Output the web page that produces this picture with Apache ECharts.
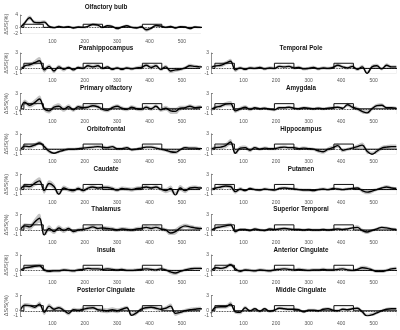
<!DOCTYPE html>
<html>
<head>
<meta charset="utf-8">
<script src="https://cdn.jsdelivr.net/npm/echarts@6/dist/echarts.min.js"></script>
<style>html,body{margin:0;background:#fff}#chart{width:400px;height:330px}</style>
</head>
<body>
<div id="chart"></div>
<script>
// time axis (samples) and stimulation blocks
var time = [0,15,30,45,60,75,90,105,120,135,150,165,180,195,210,225,240,255,270,285,300,315,330,345,360,375,390,405,420,435,450,465,480,495,510,525,540,555,570];
var stimBlocks = [[12,72],[195,255],[378,438]];
var stimLevel = 1;

// mean signal change per region
var olfactoryBulb = [-0.2,1.5,3.1,1.6,1.5,1.7,0.3,-0.1,0.3,0.0, 0.2,-0.2,0.1,0.0,0.3,0.9,0.7,0.0,0.5,0.3, -0.4,0.1,0.5,0.0,-0.2,0.2,-0.8,-0.3,0.6,0.4, 0.0,0.3,-0.2,0.2,0.1,-0.4,0.1,0.0,0.0];
var parahippocampus = [-0.3,0.5,0.7,1.1,1.5,-0.3,0.4,-0.5,0.3,-0.2, 0.2,-0.3,0.2,0.0,0.5,0.3,0.5,0.0,0.3,-0.2, 0.1,-0.2,0.1,-0.1,0.1,0.2,0.6,0.2,0.5,-0.2, 0.3,-0.5,-0.3,-0.2,0.1,0.5,0.4,0.3,0.3];
var temporalPole = [0.2,0.5,0.6,1.0,1.4,-0.3,0.1,-0.2,0.1,0.0, 0.2,-0.1,0.1,0.0,0.4,0.3,0.4,0.1,0.2,-0.1, 0.0,0.2,-0.1,0.1,0.0,0.2,0.6,0.3,0.1,0.4, -0.2,0.3,-1.0,0.3,0.5,-0.1,0.6,0.3,0.3];
var primaryOlfactory = [-0.5,1.3,0.7,1.2,1.9,0.0,-0.4,0.3,0.5,-0.1, 0.4,-0.2,0.4,0.2,0.3,0.6,0.4,-0.1,-0.3,0.2, 0.5,0.1,-0.1,0.3,0.0,-0.1,0.3,0.0,0.5,-0.2, 0.1,-0.4,-0.5,0.1,0.2,0.5,0.2,0.3,0.3];
var amygdala = [-0.2,0.3,0.5,0.9,1.0,-0.4,0.0,0.3,-0.1,0.2, 0.0,0.1,-0.1,-0.2,0.2,0.2,0.3,0.1,0.0,0.2, 0.1,0.0,0.1,0.0,0.1,0.2,0.3,0.1,0.8,0.3, 0.0,-0.5,-0.8,0.0,0.6,0.7,0.2,0.2,0.1];
var orbitofrontal = [-0.3,0.6,0.5,0.8,1.2,0.5,-0.4,-0.8,-0.5,-0.2, 0.0,0.0,0.1,0.2,0.3,0.4,0.5,0.4,0.3,0.5, 0.1,0.1,0.3,-0.1,0.0,0.2,0.4,0.4,0.2,0.0, -0.2,-0.5,-0.6,-0.1,0.3,0.2,0.2,0.1,0.1];
var hippocampus = [0.0,0.3,0.4,0.7,1.4,-0.8,0.2,0.3,-0.2,0.3, 0.0,0.2,0.1,0.1,0.3,0.4,0.3,0.3,0.1,0.2, 0.1,0.0,-0.3,-0.5,0.0,0.3,0.7,-0.2,0.0,0.2, 0.5,0.8,-0.4,-1.0,-0.4,0.2,0.4,0.5,0.5];
var caudate = [0.0,0.7,0.6,1.2,1.7,-0.2,1.2,0.6,-0.9,0.3, 0.0,-0.2,0.2,-0.2,0.3,0.5,0.3,0.4,0.4,0.2, -0.1,0.2,0.1,0.0,0.2,0.3,0.5,0.3,0.5,0.1, -0.2,0.2,-1.1,0.3,-0.2,0.3,0.4,0.3,0.3];
var putamen = [0.0,0.3,0.5,0.7,0.6,-0.4,0.1,-0.2,0.2,0.0, -0.1,0.1,0.0,-0.1,0.2,0.3,0.2,0.1,0.0,-0.1, -0.1,-0.2,0.0,0.1,0.0,0.2,0.1,0.0,0.1,0.2, 0.3,-0.2,-0.5,-0.3,0.0,0.3,0.5,0.3,0.2];
var thalamus = [0.0,0.8,0.6,1.5,2.3,-1.0,0.3,-0.3,0.4,-0.1, 0.3,-0.3,0.0,0.1,0.3,0.6,0.3,0.4,0.3,0.2, 0.0,0.2,0.1,0.0,0.2,0.3,0.5,0.3,0.5,0.2, 0.0,-0.6,-0.3,0.4,0.8,0.6,0.4,0.3,0.3];
var superiorTemporal = [-0.1,0.4,0.6,0.8,1.0,-0.3,0.1,0.1,-0.1,0.2, 0.0,-0.1,0.2,0.1,0.2,0.3,0.2,0.1,0.1,0.0, 0.1,0.0,0.0,0.1,0.0,0.1,0.2,0.1,0.2,0.4, 0.5,-0.1,-0.4,-0.1,0.2,0.5,0.4,0.2,0.1];
var insula = [-0.1,0.5,0.6,0.8,0.9,0.1,-0.2,-0.1,-0.1,0.1, 0.0,-0.1,0.1,0.2,0.4,0.3,0.3,0.2,0.3,0.2, 0.1,0.2,0.0,0.0,0.1,0.2,0.3,0.2,0.1,0.3, 0.1,-0.3,-0.5,-0.2,0.1,0.3,0.4,0.4,0.3];
var anteriorCingulate = [-0.2,0.5,0.4,0.6,1.1,0.3,-0.2,0.1,0.0,-0.1, 0.1,0.0,-0.1,0.1,0.2,0.3,0.2,0.1,0.2,0.1, 0.0,0.1,0.1,0.2,0.1,0.1,0.2,0.3,0.1,0.0, 0.2,0.5,0.4,0.1,-0.2,-0.2,0.0,0.3,0.4];
var posteriorCingulate = [0.0,1.1,1.0,0.7,1.3,-0.3,0.9,0.3,0.6,0.1, -0.5,0.2,0.1,0.3,0.5,0.6,0.2,0.1,0.0,0.2, 0.0,0.3,0.6,-0.9,-0.4,0.3,0.6,0.7,0.5,0.3, 0.5,0.9,-0.5,-0.3,0.0,0.2,0.3,0.4,0.3];
var middleCingulate = [-0.5,0.7,0.8,0.8,1.3,-0.2,-0.3,0.6,0.0,0.4, -0.1,0.4,-0.1,0.1,0.5,0.4,0.3,0.3,0.2,-0.2, 0.1,0.1,0.0,0.3,0.4,0.1,0.0,0.3,0.2,0.4, 0.5,-0.2,-1.0,-0.8,-0.4,0.0,0.3,0.4,0.4];

// standard error per region
var olfactoryBulbSE = [0.4,0.6,0.7,0.6,0.6,0.6,0.5,0.4,0.4,0.4, 0.4,0.4,0.4,0.4,0.4,0.5,0.5,0.4,0.4,0.4, 0.4,0.4,0.4,0.4,0.4,0.5,0.6,0.5,0.5,0.4, 0.4,0.4,0.4,0.4,0.4,0.4,0.4,0.4,0.4];
var parahippocampusSE = [0.3,0.4,0.4,0.5,0.7,0.5,0.4,0.4,0.4,0.4, 0.3,0.3,0.3,0.3,0.4,0.4,0.4,0.3,0.3,0.3, 0.3,0.3,0.3,0.3,0.3,0.4,0.4,0.4,0.4,0.3, 0.4,0.4,0.4,0.3,0.3,0.4,0.3,0.3,0.3];
var temporalPoleSE = [0.3,0.3,0.4,0.4,0.5,0.4,0.3,0.3,0.3,0.3, 0.3,0.3,0.3,0.3,0.3,0.3,0.3,0.3,0.3,0.3, 0.3,0.3,0.3,0.3,0.3,0.3,0.4,0.3,0.3,0.4, 0.3,0.4,0.5,0.4,0.4,0.3,0.4,0.3,0.3];
var primaryOlfactorySE = [0.4,0.5,0.5,0.6,0.7,0.5,0.5,0.5,0.6,0.5, 0.5,0.4,0.4,0.4,0.4,0.4,0.4,0.4,0.4,0.4, 0.4,0.4,0.4,0.4,0.4,0.4,0.4,0.4,0.4,0.4, 0.5,0.6,0.7,0.5,0.4,0.4,0.4,0.4,0.4];
var amygdalaSE = [0.3,0.4,0.4,0.4,0.5,0.4,0.4,0.4,0.4,0.3, 0.3,0.3,0.3,0.3,0.3,0.3,0.3,0.3,0.3,0.3, 0.3,0.3,0.3,0.3,0.3,0.3,0.3,0.3,0.4,0.4, 0.4,0.4,0.5,0.4,0.4,0.4,0.3,0.3,0.3];
var orbitofrontalSE = [0.3,0.4,0.4,0.4,0.4,0.4,0.4,0.3,0.3,0.3, 0.3,0.3,0.3,0.3,0.3,0.3,0.3,0.3,0.3,0.3, 0.3,0.3,0.3,0.3,0.3,0.3,0.3,0.3,0.3,0.3, 0.3,0.4,0.4,0.3,0.3,0.3,0.3,0.3,0.3];
var hippocampusSE = [0.3,0.4,0.4,0.5,0.6,0.6,0.4,0.4,0.4,0.3, 0.3,0.3,0.3,0.3,0.3,0.3,0.3,0.3,0.3,0.3, 0.3,0.3,0.4,0.4,0.4,0.4,0.4,0.4,0.3,0.3, 0.4,0.5,0.5,0.5,0.4,0.4,0.4,0.4,0.4];
var caudateSE = [0.4,0.5,0.5,0.6,0.7,0.6,0.6,0.6,0.6,0.5, 0.4,0.4,0.4,0.4,0.4,0.4,0.4,0.4,0.4,0.4, 0.4,0.4,0.4,0.4,0.4,0.4,0.4,0.4,0.4,0.4, 0.5,0.6,0.7,0.6,0.5,0.4,0.4,0.4,0.4];
var putamenSE = [0.3,0.3,0.4,0.4,0.5,0.4,0.4,0.3,0.3,0.3, 0.3,0.3,0.3,0.3,0.3,0.3,0.3,0.3,0.3,0.3, 0.3,0.3,0.3,0.3,0.3,0.3,0.3,0.3,0.3,0.3, 0.3,0.4,0.4,0.4,0.3,0.3,0.4,0.3,0.3];
var thalamusSE = [0.4,0.5,0.6,0.7,0.9,0.7,0.6,0.5,0.5,0.5, 0.4,0.4,0.4,0.4,0.4,0.4,0.4,0.4,0.4,0.4, 0.4,0.4,0.4,0.4,0.4,0.4,0.4,0.4,0.4,0.4, 0.4,0.6,0.6,0.5,0.4,0.4,0.4,0.4,0.4];
var superiorTemporalSE = [0.3,0.3,0.3,0.4,0.4,0.4,0.3,0.3,0.3,0.3, 0.3,0.3,0.3,0.3,0.3,0.3,0.3,0.3,0.3,0.3, 0.3,0.3,0.3,0.3,0.3,0.3,0.3,0.3,0.3,0.3, 0.4,0.4,0.4,0.3,0.3,0.3,0.3,0.3,0.3];
var insulaSE = [0.3,0.3,0.4,0.4,0.4,0.4,0.3,0.3,0.3,0.3, 0.3,0.3,0.3,0.3,0.3,0.3,0.3,0.3,0.3,0.3, 0.3,0.3,0.3,0.3,0.3,0.3,0.3,0.3,0.3,0.3, 0.3,0.4,0.4,0.3,0.3,0.3,0.3,0.3,0.3];
var anteriorCingulateSE = [0.3,0.3,0.3,0.4,0.4,0.4,0.3,0.3,0.3,0.3, 0.3,0.3,0.3,0.3,0.3,0.3,0.3,0.3,0.3,0.3, 0.3,0.3,0.3,0.3,0.3,0.3,0.3,0.3,0.3,0.3, 0.3,0.4,0.4,0.3,0.3,0.3,0.3,0.3,0.3];
var posteriorCingulateSE = [0.4,0.4,0.4,0.4,0.5,0.5,0.5,0.4,0.4,0.4, 0.4,0.4,0.4,0.4,0.4,0.4,0.4,0.5,0.5,0.5, 0.5,0.4,0.4,0.5,0.4,0.4,0.4,0.4,0.4,0.4, 0.4,0.5,0.5,0.4,0.4,0.4,0.4,0.4,0.4];
var middleCingulateSE = [0.3,0.4,0.4,0.4,0.5,0.4,0.4,0.4,0.3,0.3, 0.3,0.3,0.3,0.3,0.3,0.3,0.3,0.3,0.3,0.3, 0.3,0.3,0.3,0.3,0.3,0.3,0.3,0.3,0.3,0.3, 0.3,0.4,0.4,0.4,0.3,0.3,0.3,0.3,0.3];

var regions = [
    {name:'Olfactory bulb', mean:olfactoryBulb, se:olfactoryBulbSE},
    {name:'Parahippocampus', mean:parahippocampus, se:parahippocampusSE},
    {name:'Temporal Pole', mean:temporalPole, se:temporalPoleSE},
    {name:'Primary olfactory', mean:primaryOlfactory, se:primaryOlfactorySE},
    {name:'Amygdala', mean:amygdala, se:amygdalaSE},
    {name:'Orbitofrontal', mean:orbitofrontal, se:orbitofrontalSE},
    {name:'Hippocampus', mean:hippocampus, se:hippocampusSE},
    {name:'Caudate', mean:caudate, se:caudateSE},
    {name:'Putamen', mean:putamen, se:putamenSE},
    {name:'Thalamus', mean:thalamus, se:thalamusSE},
    {name:'Superior Temporal', mean:superiorTemporal, se:superiorTemporalSE},
    {name:'Insula', mean:insula, se:insulaSE},
    {name:'Anterior Cingulate', mean:anteriorCingulate, se:anteriorCingulateSE},
    {name:'Posterior Cingulate', mean:posteriorCingulate, se:posteriorCingulateSE},
    {name:'Middle Cingulate', mean:middleCingulate, se:middleCingulateSE}
];

var FONT = '"Liberation Sans", Arial, sans-serif';
var grids = [], xAxes = [], yAxes = [], series = [], texts = [];

regions.forEach(function (r, i) {
    var col, top, h, ymin, ymax;
    if (i === 0) {
        col = 0; top = 15; h = 18.5; ymin = -2; ymax = 4;
    } else {
        var row = Math.floor((i - 1) / 2);
        col = (i - 1) % 2; top = 53 + 40.4 * row; h = 20.5; ymin = -1; ymax = 3;
    }
    var left = col === 0 ? 20 : 211;
    var width = col === 0 ? 180 : 188;
    var xmax = col === 0 ? 556 : 572;

    grids.push({left:left, top:top, width:width, height:h});
    xAxes.push({
        type:'value', gridIndex:i, min:0, max:xmax, interval:100,
        axisLine:{show:false}, axisTick:{show:false}, splitLine:{show:false},
        axisLabel:{fontSize:5, color:'#555', fontFamily:FONT, margin: i === 0 ? 6 : 5,
            formatter:function (v) { return (v > 0 && v % 100 === 0) ? String(v) : ''; }}
    });
    yAxes.push({
        type:'value', gridIndex:i, min:ymin, max:ymax, interval:1, z:10,
        splitLine:{show:false},
        axisLine:{show:true, lineStyle:{color:'#777', width:0.8}},
        axisTick:{show:true, inside:true, length:2, customValues:[ymin, 0, ymax], lineStyle:{color:'#777', width:0.8}},
        axisLabel:{fontSize:5, color:'#555', fontFamily:FONT, margin:2, customValues:[ymin, 0, ymax]},
        name: col === 0 ? 'ΔS/S(%)' : '',
        nameLocation:'middle', nameGap:10,
        nameTextStyle:{fontSize:5.5, color:'#555', fontFamily:FONT}
    });

    var upper = time.map(function (t, k) { return [t, +(r.mean[k] + r.se[k]).toFixed(2)]; });
    var lower = time.map(function (t, k) { return [t, +(r.mean[k] - r.se[k]).toFixed(2)]; });
    var meanPts = time.map(function (t, k) { return [t, r.mean[k]]; });
    var stim = [[0, 0]];
    stimBlocks.forEach(function (b) {
        stim.push([b[0], 0], [b[0], stimLevel], [b[1], stimLevel], [b[1], 0]);
    });
    stim.push([xmax, 0]);

    // SE band: grey fill under the upper edge, white fill under the lower edge
    series.push({type:'line', xAxisIndex:i, yAxisIndex:i, data:upper, symbol:'none', smooth:0.4,
        lineStyle:{opacity:0}, areaStyle:{color:'#c4c4c4', opacity:1, origin:'start'}, silent:true, z:1});
    series.push({type:'line', xAxisIndex:i, yAxisIndex:i, data:lower, symbol:'none', smooth:0.4,
        lineStyle:{opacity:0}, areaStyle:{color:'#ffffff', opacity:1, origin:'start'}, silent:true, z:1.5});
    series.push({type:'line', xAxisIndex:i, yAxisIndex:i, data:stim, symbol:'none',
        lineStyle:{color:'#111', width:1}, silent:true, z:2,
        markLine:{silent:true, symbol:'none', label:{show:false},
            lineStyle:{type:'dotted', color:'#000', width:0.8}, data:[{yAxis:0}]}});
    series.push({type:'line', xAxisIndex:i, yAxisIndex:i, data:meanPts, symbol:'none', smooth:0.4,
        lineStyle:{color:'#000', width:1.4}, silent:true, z:3});

    texts.push({type:'text', x: col === 0 ? 106 : 301, y: i === 0 ? 7 : top - 5,
        style:{text:r.name, fill:'#111', fontSize:6.3, fontWeight:'bold', fontFamily:FONT,
            align:'center', verticalAlign:'middle'}});
});

var chart = echarts.init(document.getElementById('chart'));
chart.setOption({
    animation:false,
    backgroundColor:'#fff',
    grid:grids,
    xAxis:xAxes,
    yAxis:yAxes,
    series:series,
    graphic:texts
});
</script>
</body>
</html>
